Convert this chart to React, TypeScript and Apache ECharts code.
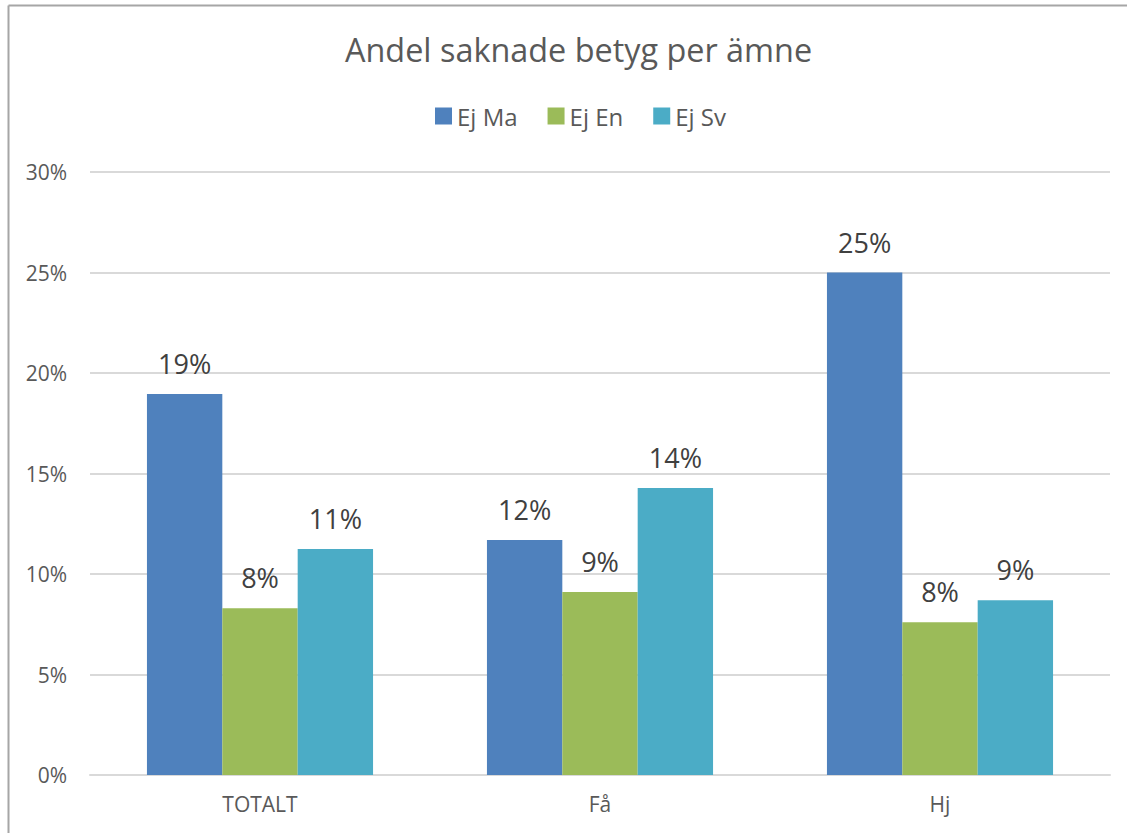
import React, { useEffect, useRef } from "react";
import * as echarts from "echarts";

const categories = ["TOTALT", "Få", "Hj"];
const seriesNames = ["Ej Ma", "Ej En", "Ej Sv"];
const ejMa = [0.1895, 0.1169, 0.25];
const ejEn = [0.083, 0.091, 0.076];
const ejSv = [0.1124, 0.1428, 0.087];
const colors = ["#4F81BD", "#9BBB59", "#4BACC6"];
const yTicks = [0, 0.05, 0.1, 0.15, 0.2, 0.25, 0.3];

const FONT = "'Open Sans', 'Liberation Sans', sans-serif";

export default function App() {
  const ref = useRef<HTMLDivElement>(null);
  useEffect(() => {
    if (!ref.current) return;
    const chart = echarts.init(ref.current, undefined, { renderer: "svg" });
    const data = [ejMa, ejEn, ejSv];
    chart.setOption({
      animation: false,
      backgroundColor: "#ffffff",
      color: colors,
      title: {
        text: "Andel saknade betyg per ämne",
        left: 340,
        top: 28,
        textStyle: { fontFamily: FONT, fontSize: 32.4, fontWeight: "normal", color: "#595959" },
      },
      legend: {
        top: 99,
        left: 430,
        itemWidth: 17,
        itemHeight: 17,
        itemGap: 30,
        icon: "rect",
        textStyle: { fontFamily: FONT, fontSize: 24, color: "#595959" },
        data: seriesNames,
      },
      graphic: [
        {
          type: "line",
          shape: { x1: 8.5, y1: 5.5, x2: 1127, y2: 5.5 },
          style: { stroke: "#a6a6a6", lineWidth: 2 },
          silent: true,
        },
        {
          type: "line",
          shape: { x1: 8.5, y1: 5.5, x2: 8.5, y2: 833 },
          style: { stroke: "#a6a6a6", lineWidth: 2 },
          silent: true,
        },
      ],
      grid: { left: 90, right: 17, top: 172, bottom: 58 },
      xAxis: {
        type: "category",
        data: categories,
        axisLine: { lineStyle: { color: "#d9d9d9", width: 2 } },
        axisTick: { show: false },
        axisLabel: { fontFamily: FONT, fontSize: 21, color: "#595959", margin: 18 },
      },
      yAxis: {
        type: "value",
        min: yTicks[0],
        max: yTicks[yTicks.length - 1],
        interval: 0.05,
        axisLine: { show: false },
        axisTick: { show: false },
        splitLine: { lineStyle: { color: "#d9d9d9", width: 2 } },
        axisLabel: {
          fontFamily: FONT,
          fontSize: 21,
          color: "#595959",
          margin: 23,
          formatter: (v: number) => Math.round(v * 100) + "%",
        },
      },
      series: seriesNames.map((name, i) => ({
        name,
        type: "bar",
        data: data[i],
        barGap: "0%",
        barCategoryGap: "33.5%",
        itemStyle: { color: colors[i] },
        label: {
          show: true,
          position: "top",
          distance: 17,
          fontFamily: FONT,
          fontSize: 27,
          color: "#404040",
          formatter: (p: any) => Math.round(p.value * 100) + "%",
        },
      })),
    });
    return () => chart.dispose();
  }, []);
  return (
    <div
      ref={ref}
      style={{ position: "fixed", left: 0, top: 0, width: 1127, height: 833 }}
    />
  );
}
